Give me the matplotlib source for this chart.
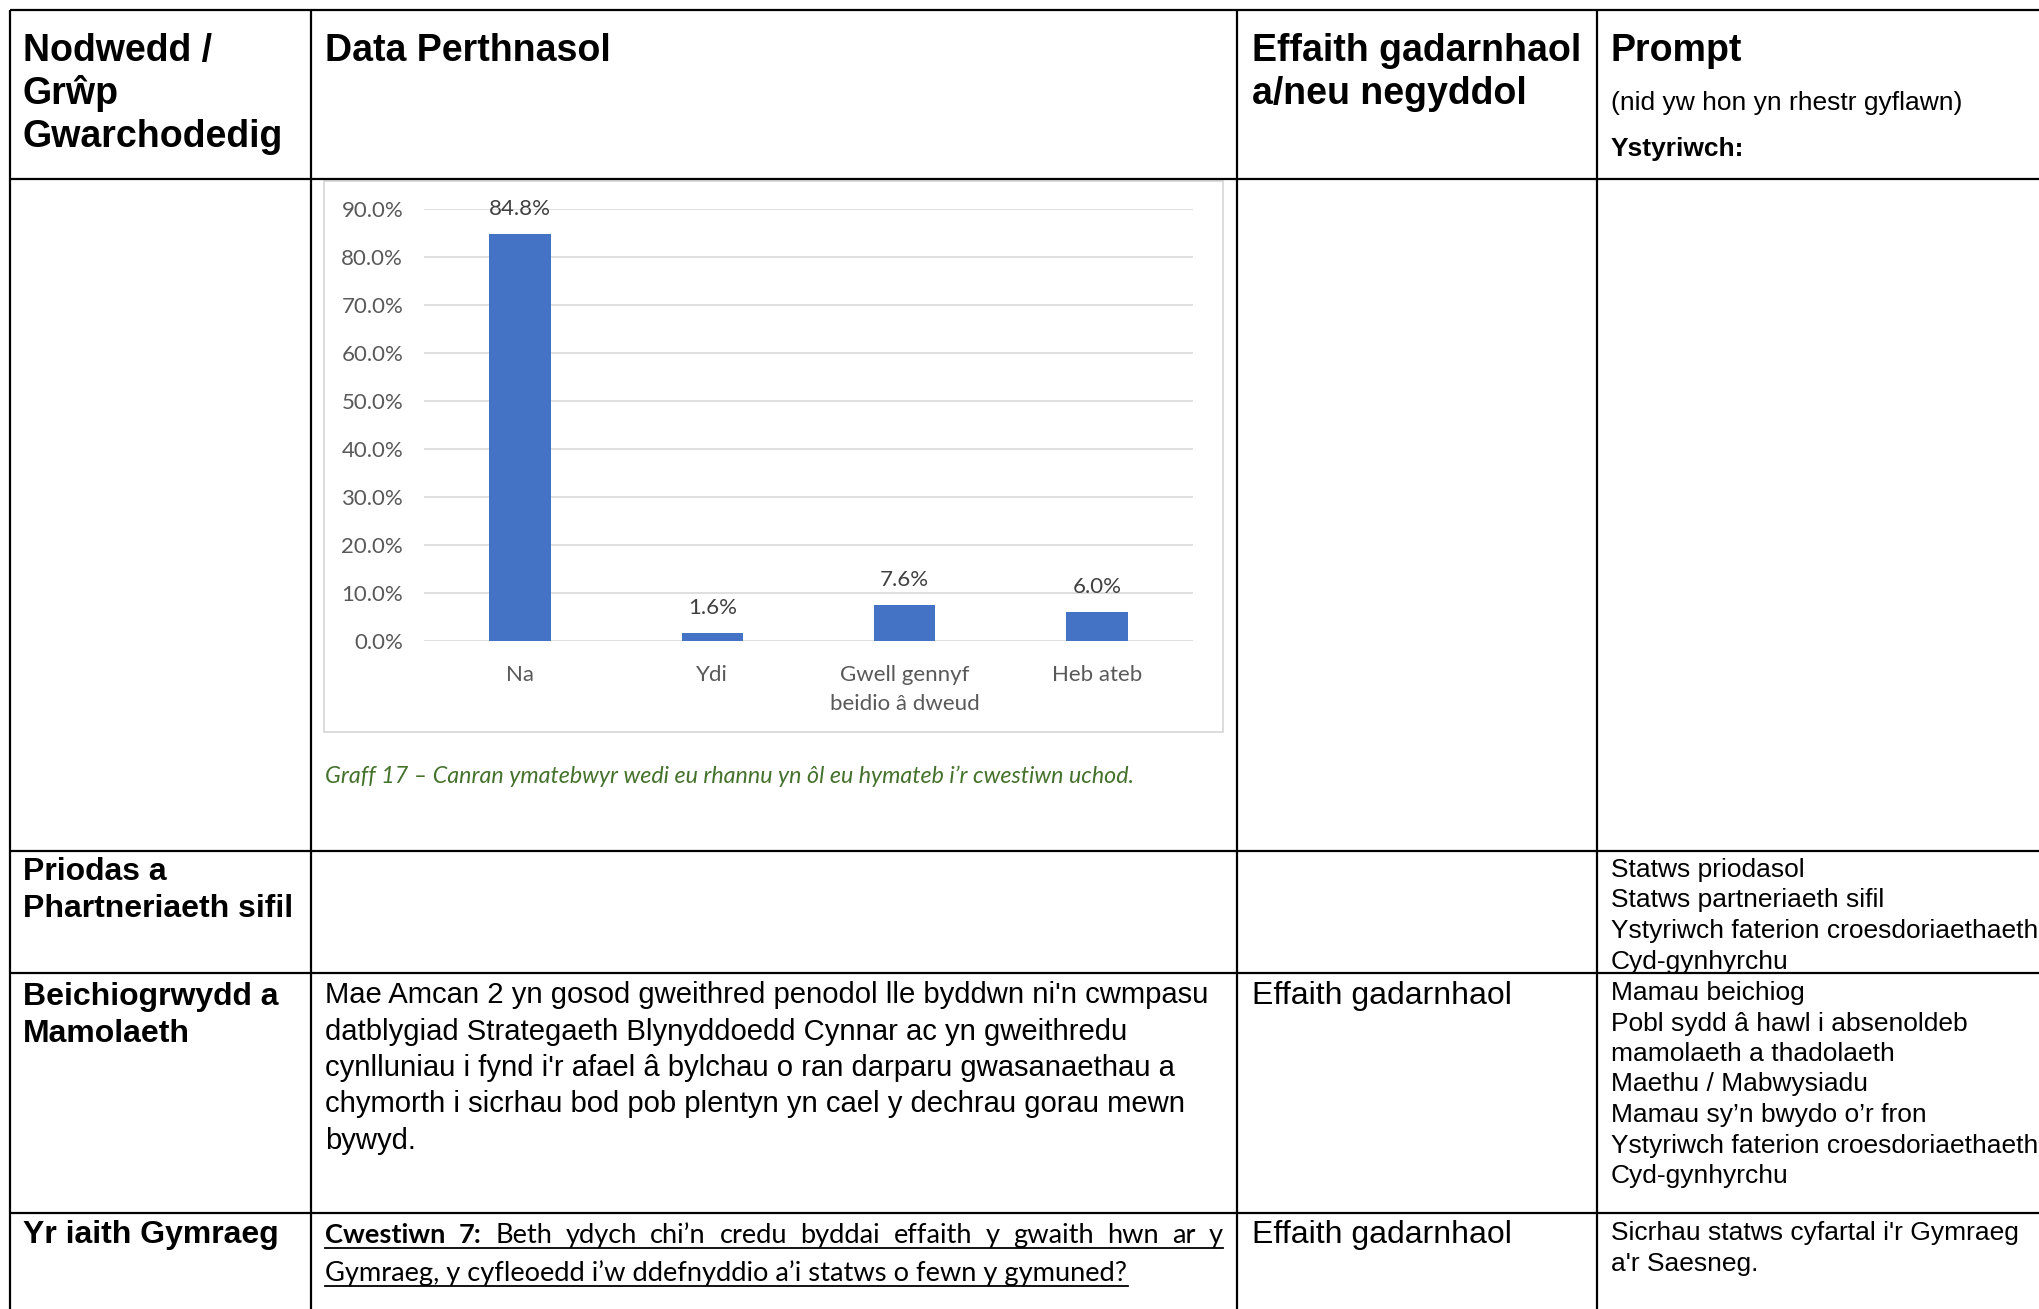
import matplotlib
matplotlib.use("Agg")
import matplotlib.pyplot as plt

# ---------------- data ----------------
categories = ["Na", "Ydi", "Gwell gennyf\nbeidio â dweud", "Heb ateb"]
values = [84.8, 1.6, 7.6, 6.0]
yticks = [0, 10, 20, 30, 40, 50, 60, 70, 80, 90]
ytick_labels = [f"{v:.1f}%" for v in yticks]
caption = "Graff 17 – Canran ymatebwyr wedi eu rhannu yn ôl eu hymateb i’r cwestiwn uchod."

header_col1 = ["Nodwedd /", "Grŵp", "Gwarchodedig"]
header_col2 = ["Data Perthnasol"]
header_col3 = ["Effaith gadarnhaol", "a/neu negyddol"]
header_col4 = "Prompt"
header_col4_note = "(nid yw hon yn rhestr gyflawn)"
header_col4_sub = "Ystyriwch:"

row2_label = ["Priodas a", "Phartneriaeth sifil"]
row2_prompt = ["Statws priodasol", "Statws partneriaeth sifil",
               "Ystyriwch faterion croesdoriaethaeth", "Cyd-gynhyrchu"]
row3_label = ["Beichiogrwydd a", "Mamolaeth"]
row3_body = ["Mae Amcan 2 yn gosod gweithred penodol lle byddwn ni'n cwmpasu",
             "datblygiad Strategaeth Blynyddoedd Cynnar ac yn gweithredu",
             "cynlluniau i fynd i'r afael â bylchau o ran darparu gwasanaethau a",
             "chymorth i sicrhau bod pob plentyn yn cael y dechrau gorau mewn",
             "bywyd."]
row3_effect = "Effaith gadarnhaol"
row3_prompt = ["Mamau beichiog", "Pobl sydd â hawl i absenoldeb",
               "mamolaeth a thadolaeth", "Maethu / Mabwysiadu",
               "Mamau sy’n bwydo o’r fron",
               "Ystyriwch faterion croesdoriaethaeth", "Cyd-gynhyrchu"]
row4_label = ["Yr iaith Gymraeg"]
row4_q_bold = ["Cwestiwn", "7:"]
row4_q_line1 = ["Beth", "ydych", "chi’n", "credu", "byddai", "effaith", "y",
                "gwaith", "hwn", "ar", "y"]
row4_q_line2 = "Gymraeg, y cyfleoedd i’w ddefnyddio a’i statws o fewn y gymuned?"
row4_effect = "Effaith gadarnhaol"
row4_prompt = ["Sicrhau statws cyfartal i'r Gymraeg", "a'r Saesneg."]

# ---------------- figure ----------------
W, H = 2040, 1309
fig = plt.figure(figsize=(W / 100, H / 100), dpi=100)
fig.patch.set_facecolor("white")
bg = fig.add_axes([0, 0, 1, 1])
bg.set_xlim(0, W)
bg.set_ylim(H, 0)
bg.axis("off")

ARIAL = "Liberation Sans"
CAL = "Lato"

# table grid
vlines = [10, 311, 1237, 1597]
hlines = [10, 179, 851, 973, 1213]
for x in vlines:
    bg.plot([x, x], [hlines[0], H + 5], color="black", lw=1.6, solid_capstyle="butt")
for y in hlines:
    bg.plot([vlines[0], W + 5], [y, y], color="black", lw=1.6, solid_capstyle="butt")


def T(x, y, s, size, bold=False, family=ARIAL, color="black", style="normal", ha="left"):
    return bg.text(x, y, s, fontsize=size, fontweight="bold" if bold else "normal",
                   family=family, color=color, style=style, ha=ha, va="baseline")


renderer = fig.canvas.get_renderer()


def width(t):
    return t.get_window_extent(renderer).width


def fit(t, target):
    t.set_fontsize(t.get_fontsize() * target / width(t))


HS = 27  # header size
# header row
for i, s in enumerate(header_col1):
    T(23, 61 + 43 * i, s, HS, bold=True)
T(325, 61, header_col2[0], HS, bold=True)
for i, s in enumerate(header_col3):
    T(1252, 61 + 43 * i, s, HS, bold=True)
T(1611, 61, header_col4, HS, bold=True)
T(1611, 110, header_col4_note, 19)
T(1611, 156, header_col4_sub, 19, bold=True)

# row 2
for i, s in enumerate(row2_label):
    T(23, 880 + 37 * i, s, 23, bold=True)
for i, s in enumerate(row2_prompt):
    T(1611, 877 + 30.5 * i, s, 19)

# row 3
for i, s in enumerate(row3_label):
    T(23, 1005 + 36.5 * i, s, 23, bold=True)
first = T(325, 1003, row3_body[0], 23)
fit(first, 1212 - 325)
bs = first.get_fontsize()
for i, s in enumerate(row3_body[1:], start=1):
    T(325, 1003 + 36.5 * i, s, bs)
T(1252, 1004, row3_effect, 23)
for i, s in enumerate(row3_prompt):
    T(1611, 1000 + 30.5 * i, s, 19)

# row 4
T(23, 1243, row4_label[0], 23, bold=True)
T(1252, 1243, row4_effect, 23)
for i, s in enumerate(row4_prompt):
    T(1611, 1240 + 30.5 * i, s, 19)

# Cwestiwn 7 (justified, underlined)
l2 = T(325, 1281, row4_q_line2, 20, family=CAL)
fit(l2, 1128 - 325)
qs = l2.get_fontsize()
words = [(w, True) for w in row4_q_bold] + [(w, False) for w in row4_q_line1]
objs = [T(0, 1243, w, qs, bold=b, family=CAL) for w, b in words]
ws = [width(o) for o in objs]
gap = ((1223 - 325) - sum(ws)) / (len(ws) - 1)
x = 325
for o, w in zip(objs, ws):
    o.set_x(x)
    x += w + gap
bg.plot([325, 1223], [1248, 1248], color="black", lw=1.3)
bg.plot([325, 1128], [1286, 1286], color="black", lw=1.3)

# ---------------- chart ----------------
bg.add_patch(plt.Rectangle((324, 181), 1223 - 324, 732 - 181, fill=False,
                           edgecolor="#d9d9d9", lw=1.3))
y0, y90 = 641, 209
ax = fig.add_axes([424 / W, 1 - y0 / H, (1193 - 424) / W, (y0 - y90) / H])
ax.bar(range(len(values)), values, width=0.32, color="#4472c4", zorder=3)
ax.set_xlim(-0.5, len(values) - 0.5)
ax.set_ylim(0, 90)
ax.set_yticks(yticks)
ax.set_yticklabels(ytick_labels, family=CAL, fontsize=16, color="#595959")
ax.set_xticks([])
ax.yaxis.grid(True, color="#d9d9d9", lw=1.2, zorder=0)
ax.set_axisbelow(True)
for sp in ax.spines.values():
    sp.set_visible(False)
ax.tick_params(axis="y", length=0, pad=15)
ax.set_facecolor("none")

for i, v in enumerate(values):
    ax.annotate(f"{v:.1f}%", (i, v), xytext=(0, 18), textcoords="offset points",
                ha="center", va="center", family=CAL, fontsize=16, color="#404040")

trans = ax.get_xaxis_transform()
for i, lab in enumerate(categories):
    for j, line in enumerate(lab.split("\n")):
        ypx = 681 + 29.5 * j
        ax.text(i, (y0 - ypx) / (y0 - y90), line, transform=trans, ha="center",
                va="baseline", family=CAL, fontsize=16, color="#595959")

cap = T(325, 783, caption, 15, family=CAL, style="italic", color="#44722c")
fit(cap, 1133 - 325)

fig.savefig("out.png", dpi=100, facecolor="white")
